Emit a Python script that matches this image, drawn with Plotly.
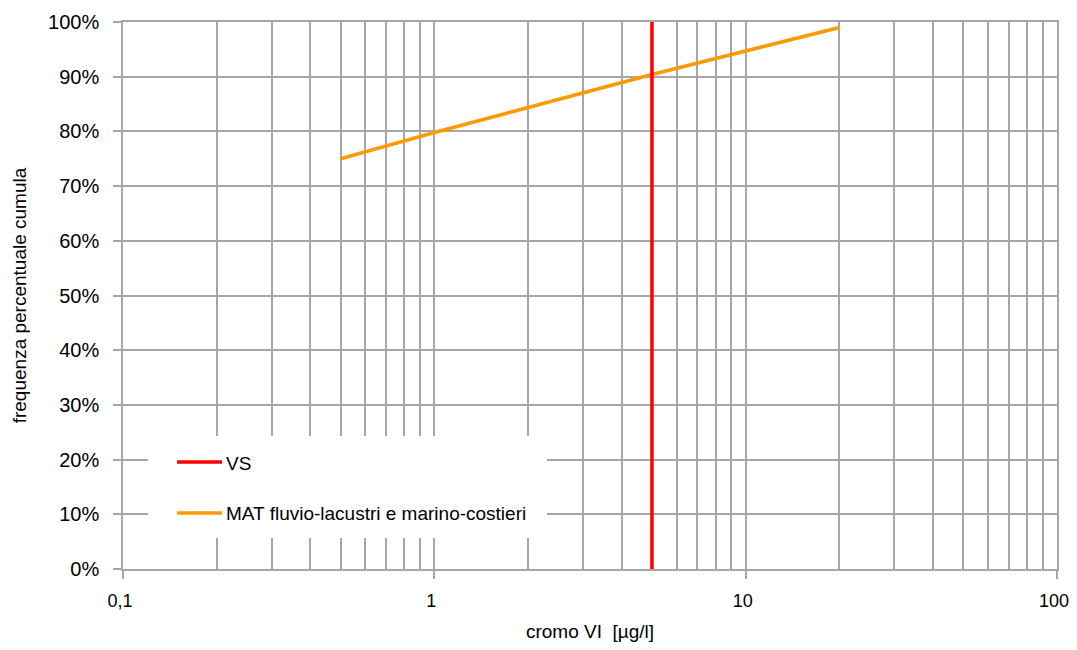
import plotly.graph_objects as go

# ---- data ----
vs_x = [5, 5]
vs_y = [0.0, 1.0]
mat_x = [0.5, 1, 5, 20]
mat_y = [0.75, 0.798, 0.904, 0.99]

x_major = [0.1, 1, 10, 100]
x_major_text = ["0,1", "1", "10", "100"]
x_minor = [m * d for d in (0.1, 1, 10) for m in range(2, 10)]
y_ticks = [i / 10 for i in range(11)]
y_tick_text = [f"{i*10}%" for i in range(11)]

legend_names = ["VS", "MAT fluvio-lacustri e marino-costieri"]
colors = ["#ff0000", "#ff9900"]

FONT = "Liberation Sans, Arial, sans-serif"
GRID = "#a6a6a6"

fig = go.Figure()
fig.add_trace(go.Scatter(x=mat_x, y=mat_y, mode="lines", name=legend_names[1],
                         line=dict(color=colors[1], width=3.5), showlegend=False))
fig.add_trace(go.Scatter(x=vs_x, y=vs_y, mode="lines", name=legend_names[0],
                         line=dict(color=colors[0], width=3.5), showlegend=False))

# page has an 8px body margin: work in screen pixels, convert to figure
OFF = 8
W, H = 1077 - 2 * OFF, 650 - 2 * OFF
PL, PR, PT, PB = 123, 1057, 22, 569          # plot area on screen
ml, mt = PL - OFF, PT - OFF
mr, mb = W - (PR - OFF), H - (PB - OFF)
pw, ph = PR - PL, PB - PT
px = lambda x: (x - PL) / pw
py = lambda y: (PB - y) / ph

# legend box (white) over gridlines
L, T, R, B = 148, 436, 547, 538
shapes = [dict(type="rect", xref="paper", yref="paper", layer="above",
               x0=px(L), x1=px(R), y0=py(B), y1=py(T),
               fillcolor="white", line=dict(width=0))]
annotations = []
for i, (name, c) in enumerate(zip(legend_names, colors)):
    yy = [462, 513][i]
    shapes.append(dict(type="line", xref="paper", yref="paper", layer="above",
                       x0=px(177), x1=px(222), y0=py(yy), y1=py(yy),
                       line=dict(color=c, width=3.5)))
    annotations.append(dict(xref="paper", yref="paper", x=px(224), y=py(yy + 1),
                            xanchor="left", yanchor="middle", showarrow=False,
                            text=name, font=dict(family=FONT, size=19, color="black")))

fig.update_layout(
    width=W, height=H,
    margin=dict(l=ml, r=mr, t=mt, b=mb, autoexpand=False),
    paper_bgcolor="white", plot_bgcolor="white",
    font=dict(family=FONT, size=20, color="black"),
    separators=",.",
    shapes=shapes, annotations=annotations,
    xaxis=dict(type="log", range=[-1, 2],
               tickvals=x_major, ticktext=x_major_text,
               ticks="outside", ticklen=8, tickcolor=GRID, tickwidth=1.5,
               showgrid=True, gridcolor=GRID, gridwidth=1.5,
               minor=dict(tickvals=x_minor, showgrid=True, gridcolor=GRID, gridwidth=1.5, ticks=""),
               showline=True, linecolor=GRID, linewidth=1.5, mirror=True,
               ticklabelstandoff=7, ticklabelshift=-3, tickfont=dict(size=18),
               ticklabeloverflow="allow",
               title=dict(text="cromo VI  [µg/l]", standoff=15, font=dict(size=19)),
               zeroline=False),
    yaxis=dict(range=[0, 1], tickvals=y_ticks, ticktext=y_tick_text,
               ticks="outside", ticklen=8, tickcolor=GRID, tickwidth=1.5,
               showgrid=True, gridcolor=GRID, gridwidth=1.5,
               showline=True, linecolor=GRID, linewidth=1.5, mirror=True,
               ticklabelstandoff=10, tickfont=dict(size=20),
               title=dict(text="frequenza percentuale cumula", standoff=16, font=dict(size=19)),
               zeroline=False),
)

fig.write_html("out.html")
